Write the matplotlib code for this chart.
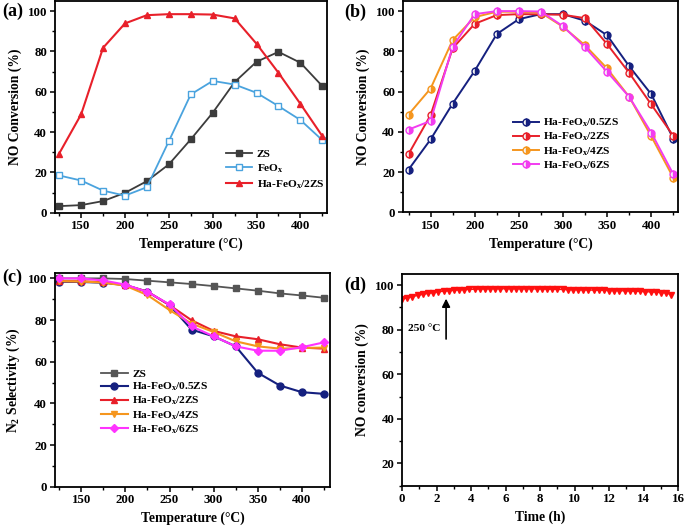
import matplotlib
matplotlib.use('Agg')
import matplotlib.pyplot as plt
from matplotlib.ticker import MultipleLocator

plt.rcParams['font.family'] = ['Liberation Serif', 'DejaVu Serif']
plt.rcParams['font.weight'] = 'bold'
plt.rcParams['axes.labelweight'] = 'bold'
plt.rcParams['mathtext.default'] = 'regular'
plt.rcParams['axes.linewidth'] = 1.3

# ---- data ----
temps = [125, 150, 175, 200, 225, 250, 275, 300, 325, 350, 375, 400, 425]

# (a) NO conversion
a_zs = [3.3, 3.8, 5.8, 9.9, 15.7, 24.0, 36.4, 49.6, 64.8, 74.9, 79.8, 74.4, 62.8]
a_feox = [18.5, 16.0, 11.0, 8.5, 12.7, 35.5, 58.7, 65.4, 63.6, 59.5, 52.9, 46.0, 36.0]
a_ha2 = [29.4, 48.8, 81.8, 93.9, 98.0, 98.5, 98.5, 98.3, 96.4, 83.8, 69.4, 54.0, 38.0]

# (b) NO conversion, ZS loading
b_ha05 = [21.2, 36.2, 54.0, 70.3, 88.6, 96.0, 98.5, 98.5, 95.2, 88.0, 72.6, 58.7, 36.6]
b_ha2 = [28.9, 48.3, 81.5, 93.7, 98.0, 98.5, 98.4, 98.2, 96.5, 83.6, 69.3, 53.6, 38.0]
b_ha4 = [48.6, 61.5, 85.6, 97.0, 99.7, 99.7, 99.2, 92.2, 83.0, 71.5, 57.4, 37.8, 17.2]
b_ha6 = [41.1, 45.4, 82.3, 98.5, 100.0, 100.0, 99.8, 92.5, 82.0, 69.8, 57.4, 39.6, 18.9]

# (c) N2 selectivity
c_zs = [100.0, 100.0, 100.0, 99.7, 98.9, 98.1, 97.3, 96.3, 95.2, 94.1, 92.8, 91.8, 90.7]
c_ha05 = [98.4, 98.3, 97.9, 96.8, 93.6, 87.2, 75.4, 72.2, 67.4, 54.7, 48.6, 45.4, 44.6]
c_ha2 = [98.7, 98.6, 98.2, 96.8, 93.6, 87.2, 79.9, 74.8, 72.2, 70.8, 68.4, 66.8, 66.3]
c_ha4 = [98.7, 98.5, 98.0, 96.5, 92.0, 84.8, 78.3, 74.3, 69.8, 67.4, 66.3, 66.6, 66.8]
c_ha6 = [100.0, 100.0, 99.0, 97.0, 93.5, 87.5, 77.0, 72.2, 67.4, 65.3, 65.3, 67.0, 69.3]

# (d) stability at 250 C
d_time = [0.0, 0.3, 0.6, 0.9, 1.2, 1.5, 1.8, 2.1, 2.4, 2.7, 3.0, 3.3, 3.6, 3.9,
          4.2, 4.5, 4.8, 5.1, 5.4, 5.7, 6.0, 6.3, 6.6, 6.9, 7.2, 7.5, 7.8, 8.1,
          8.4, 8.7, 9.0, 9.3, 9.6, 9.9, 10.2, 10.5, 10.8, 11.1, 11.4, 11.7, 12.0,
          12.3, 12.6, 12.9, 13.2, 13.5, 13.8, 14.1, 14.4, 14.7, 15.0, 15.3, 15.6]
d_conv = [93.7, 94.3, 94.9, 95.4, 95.9, 96.3, 96.7, 97.0, 97.3, 97.5, 97.7, 97.9,
          98.0, 98.1, 98.2, 98.3, 98.3, 98.4, 98.4, 98.4, 98.4, 98.4, 98.4, 98.4,
          98.4, 98.4, 98.3, 98.3, 98.2, 98.2, 98.1, 98.1, 98.0, 98.0, 97.9, 97.9,
          97.8, 97.8, 97.7, 97.7, 97.6, 97.6, 97.5, 97.5, 97.4, 97.3, 97.2, 97.1,
          97.0, 96.9, 96.7, 96.5, 95.8]

lbl_zs = 'ZS'
lbl_feox = r'FeO$_\mathregular{x}$'
lbl_ha05 = r'Ha-FeO$_\mathregular{x}$/0.5ZS'
lbl_ha2 = r'Ha-FeO$_\mathregular{x}$/2ZS'
lbl_ha4 = r'Ha-FeO$_\mathregular{x}$/4ZS'
lbl_ha6 = r'Ha-FeO$_\mathregular{x}$/6ZS'

navy = '#15207f'
red = '#e8202a'
orange = '#f5961e'
magenta = '#f23cf0'

fig = plt.figure(figsize=(6.85, 5.28), dpi=100)
ax_a = fig.add_axes([0.080, 0.597, 0.397, 0.401])
ax_b = fig.add_axes([0.588, 0.598, 0.402, 0.400])
ax_c = fig.add_axes([0.080, 0.078, 0.402, 0.405])
ax_d = fig.add_axes([0.587, 0.080, 0.403, 0.401])

label_fs = 9.8
tick_fs = 9.3
leg_fs = 8.2

# (a)
ax_a.plot(temps, a_zs, color='#3c3c3c', marker='s', ms=4.5, lw=1.3, label=lbl_zs)
ax_a.plot(temps, a_feox, color='#4aa3de', marker='s', ms=4.5, mfc='white', lw=1.3, label=lbl_feox)
ax_a.plot(temps, a_ha2, color=red, marker='^', ms=5, lw=1.5, label=lbl_ha2)
ax_a.set_xlim(120, 430)
ax_a.set_ylim(0, 105)
ax_a.set_ylabel('NO Conversion (%)', fontsize=label_fs)
ax_a.set_xlabel('Temperature (\u00b0C)', fontsize=label_fs)
ax_a.legend(loc='upper left', bbox_to_anchor=(0.6, 0.34), frameon=False, fontsize=leg_fs,
            handlelength=2.3, labelspacing=0.3, handletextpad=0.4, borderpad=0.2)

# (b)
for ys, c, lab in [(b_ha05, navy, lbl_ha05), (b_ha2, red, lbl_ha2),
                   (b_ha4, orange, lbl_ha4), (b_ha6, magenta, lbl_ha6)]:
    ax_b.plot(temps, ys, color=c, marker='o', ms=5, lw=1.4, fillstyle='right',
              markerfacecoloralt='#f4f4f4', label=lab)
ax_b.set_xlim(118.5, 430.5)
ax_b.set_ylim(0, 105)
ax_b.set_ylabel('NO Conversion (%)', fontsize=label_fs)
ax_b.set_xlabel('Temperature (\u00b0C)', fontsize=label_fs)
ax_b.legend(loc='upper left', bbox_to_anchor=(0.37, 0.49), frameon=False, fontsize=leg_fs,
            handlelength=2.3, labelspacing=0.15, handletextpad=0.4, borderpad=0.2)

# (c)
ax_c.plot(temps, c_zs, color='#555555', marker='s', ms=4.5, lw=1.3, label=lbl_zs)
ax_c.plot(temps, c_ha05, color=navy, marker='o', ms=5, lw=1.5, label=lbl_ha05)
ax_c.plot(temps, c_ha2, color=red, marker='^', ms=5, lw=1.5, label=lbl_ha2)
ax_c.plot(temps, c_ha4, color=orange, marker='v', ms=5, lw=1.5, label=lbl_ha4)
ax_c.plot(temps, c_ha6, color='#ff33ff', marker='D', ms=4.5, lw=1.5, label=lbl_ha6)
ax_c.set_xlim(120, 432)
ax_c.set_ylim(0, 102.6)
ax_c.set_ylabel(r'N$_\mathregular{2}$ Selectivity (%)', fontsize=label_fs)
ax_c.set_xlabel('Temperature (\u00b0C)', fontsize=label_fs)
ax_c.legend(loc='upper left', bbox_to_anchor=(0.14, 0.588), frameon=False, fontsize=leg_fs,
            handlelength=2.3, labelspacing=0.15, handletextpad=0.4, borderpad=0.2)

for ax in (ax_a, ax_b, ax_c):
    ax.xaxis.set_major_locator(MultipleLocator(50))
    ax.xaxis.set_minor_locator(MultipleLocator(25))
    ax.yaxis.set_major_locator(MultipleLocator(20))
    ax.yaxis.set_minor_locator(MultipleLocator(10))

# (d)
ax_d.plot(d_time, d_conv, color='#ff1010', marker='v', ms=4, lw=1.0, ls='-')
ax_d.set_xlim(0, 16)
ax_d.set_ylim(10, 105)
ax_d.xaxis.set_major_locator(MultipleLocator(2))
ax_d.xaxis.set_minor_locator(MultipleLocator(1))
ax_d.set_yticks([20, 40, 60, 80, 100])
ax_d.yaxis.set_minor_locator(MultipleLocator(10))
ax_d.set_ylabel('NO conversion (%)', fontsize=label_fs)
ax_d.set_xlabel('Time (h)', fontsize=label_fs)
ax_d.annotate('', xy=(2.55, 95.2), xytext=(2.55, 74.6),
              arrowprops=dict(arrowstyle='-|>', color='black', lw=1.2, mutation_scale=12))
ax_d.text(0.35, 80.7, '250 \u00b0C', fontsize=8.2, ha='left', va='center')

for ax in (ax_a, ax_b, ax_c, ax_d):
    ax.tick_params(which='major', length=3.5, width=1.1, labelsize=tick_fs, pad=2)
    ax.tick_params(which='minor', length=2, width=1.0)
    for t in ax.get_xticklabels() + ax.get_yticklabels():
        t.set_fontweight('bold')

fig.text(0.004, 0.978, '(a)', fontsize=13, fontweight='bold', va='center')
fig.text(0.503, 0.977, '(b)', fontsize=13, fontweight='bold', va='center')
fig.text(0.003, 0.474, '(c)', fontsize=13, fontweight='bold', va='center')
fig.text(0.503, 0.460, '(d)', fontsize=13, fontweight='bold', va='center')

fig.savefig('out.png', dpi=100)
